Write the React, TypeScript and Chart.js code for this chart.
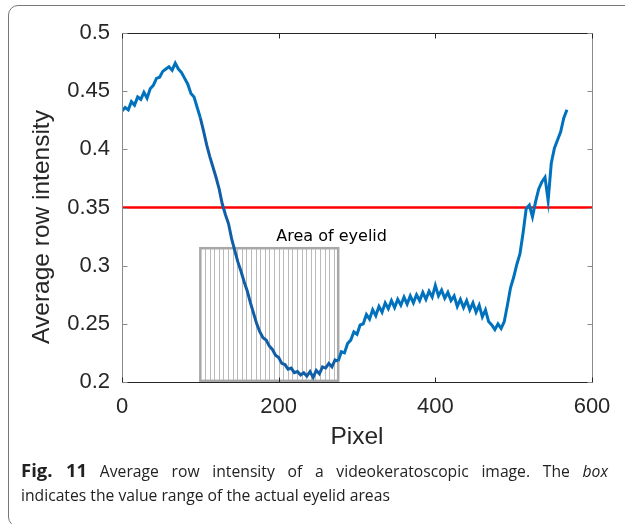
import React, { useEffect, useRef } from "react";
import { Chart, registerables } from "chart.js";

Chart.register(...registerables);

// ---- data ----
const pixelX = [
  0, 4, 8, 12, 16, 20, 24, 28, 32, 36, 40, 44, 48, 52, 56, 60, 64, 68, 72, 76,
  80, 84, 88, 92, 96, 100, 104, 108, 112, 116, 120, 124, 128, 132, 136, 140, 144, 148, 152, 156,
  160, 164, 168, 172, 176, 180, 184, 188, 192, 196, 200, 204, 208, 212, 216, 220, 224, 228, 232, 236,
  240, 244, 248, 252, 256, 260, 264, 268, 272, 276, 280, 284, 288, 292, 296, 300, 304, 308, 312, 316,
  320, 324, 328, 332, 336, 340, 344, 348, 352, 356, 360, 364, 368, 372, 376, 380, 384, 388, 392, 396,
  400, 404, 408, 412, 416, 420, 424, 428, 432, 436, 440, 444, 448, 452, 456, 460, 464, 468, 472, 476,
  480, 484, 488, 492, 496, 500, 504, 508, 512, 516, 520, 524, 528, 532, 536, 540, 544, 548, 552, 556,
  560, 564, 568,
];
const intensity = [
  0.433, 0.436, 0.434, 0.441, 0.438, 0.445, 0.443, 0.449, 0.444, 0.452, 0.455, 0.461, 0.462, 0.467, 0.469, 0.471, 0.468, 0.474, 0.469, 0.466,
  0.461, 0.456, 0.448, 0.445, 0.436, 0.427, 0.416, 0.404, 0.394, 0.385, 0.376, 0.366, 0.353, 0.344, 0.336, 0.323, 0.313, 0.303, 0.295, 0.286,
  0.278, 0.268, 0.259, 0.25, 0.243, 0.238, 0.236, 0.231, 0.228, 0.223, 0.221, 0.216, 0.215, 0.211, 0.212, 0.208, 0.209, 0.206, 0.208, 0.205,
  0.209, 0.204, 0.21, 0.207, 0.213, 0.212, 0.216, 0.213, 0.219, 0.218, 0.226, 0.225, 0.233, 0.236, 0.243, 0.241, 0.249, 0.25, 0.258, 0.254,
  0.262, 0.257, 0.265, 0.26, 0.268, 0.263, 0.27, 0.264, 0.271, 0.266, 0.273, 0.267, 0.274, 0.268, 0.275, 0.27, 0.277, 0.271, 0.278, 0.273,
  0.283, 0.274, 0.279, 0.272, 0.277, 0.27, 0.274, 0.265, 0.271, 0.264, 0.27, 0.262, 0.268, 0.26, 0.266, 0.256, 0.262, 0.252, 0.249, 0.245,
  0.25, 0.246, 0.252, 0.266, 0.281, 0.29, 0.301, 0.31, 0.328, 0.349, 0.352, 0.342, 0.355, 0.366, 0.372, 0.376, 0.356, 0.388, 0.401, 0.408,
  0.415, 0.427, 0.434,
];
const thresholdX = [0, 600];
const thresholdY = [0.35, 0.35];
const eyelidBoxX = [100, 276];
const eyelidBoxY = [0.201, 0.315];
const eyelidLabel = "Area of eyelid";
const eyelidLabelPos = [197, 0.3246];
const xTicks = [0, 200, 400, 600];
const yTicks = [0.2, 0.25, 0.3, 0.35, 0.4, 0.45, 0.5];
const xTitle = "Pixel";
const yTitle = "Average row intensity";

const FONT = '"Liberation Sans", Arial, sans-serif';

const overlay = {
  id: "overlay",
  beforeDatasetsDraw(chart: any) {
    const { ctx, scales } = chart;
    const x = scales.x, y = scales.y;
    const l = x.getPixelForValue(eyelidBoxX[0]);
    const r = x.getPixelForValue(eyelidBoxX[1]);
    const t = y.getPixelForValue(eyelidBoxY[1]);
    const b = y.getPixelForValue(eyelidBoxY[0]);
    ctx.save();
    ctx.strokeStyle = "#bababa";
    ctx.lineWidth = 1;
    for (let px = l + 4.6; px < r - 2; px += 4.6) {
      ctx.beginPath();
      ctx.moveTo(Math.round(px) + 0.5, t);
      ctx.lineTo(Math.round(px) + 0.5, b);
      ctx.stroke();
    }
    ctx.strokeStyle = "#a8a8a8";
    ctx.lineWidth = 2.5;
    ctx.strokeRect(l, t, r - l, b - t);
    ctx.fillStyle = "#000";
    ctx.font = '16px "DejaVu Sans"';
    ctx.textAlign = "left";
    ctx.textBaseline = "middle";
    ctx.fillText(eyelidLabel, x.getPixelForValue(eyelidLabelPos[0]), y.getPixelForValue(eyelidLabelPos[1]));
    ctx.restore();
  },
  afterDraw(chart: any) {
    const { ctx, chartArea: a, scales } = chart;
    const x = scales.x, y = scales.y;
    ctx.save();
    ctx.lineWidth = 1;
    const dark = "#262626", grey = "#8a8a8a";
    const line = (x1: number, y1: number, x2: number, y2: number, c: string) => {
      ctx.strokeStyle = c;
      ctx.beginPath();
      ctx.moveTo(x1, y1);
      ctx.lineTo(x2, y2);
      ctx.stroke();
    };
    const L = Math.round(a.left) + 0.5, R = Math.round(a.right) + 0.5;
    const T = Math.round(a.top) + 0.5, B = Math.round(a.bottom) + 0.5;
    line(L, T, R, T, dark);
    line(L, B, R, B, dark);
    line(L, T, L, B, grey);
    line(R, T, R, B, grey);
    for (const v of xTicks) {
      const px = Math.round(x.getPixelForValue(v)) + 0.5;
      line(px, B, px, B - 5, dark);
      line(px, T, px, T + 5, dark);
    }
    for (const v of yTicks) {
      const py = Math.round(y.getPixelForValue(v)) + 0.5;
      line(L, py, L + 5, py, grey);
      line(R, py, R - 5, py, grey);
    }
    // y-axis title
    ctx.translate(42, 227);
    ctx.rotate(-Math.PI / 2);
    ctx.fillStyle = "#262626";
    ctx.font = "24.5px " + FONT;
    ctx.textAlign = "center";
    ctx.textBaseline = "middle";
    ctx.fillText(yTitle, 0, 0);
    ctx.restore();
  },
};

export default function App() {
  const ref = useRef<HTMLCanvasElement | null>(null);
  useEffect(() => {
    if (!ref.current) return;
    const blue = "#0072bd";
    const darkBlue = "#125ea6";
    const chart = new Chart(ref.current, {
      type: "line",
      data: {
        datasets: [
          {
            data: pixelX.map((v, i) => ({ x: v, y: intensity[i] })),
            borderColor: blue,
            borderWidth: 3,
            pointRadius: 0,
            tension: 0,
            segment: {
              borderColor: (c: any) =>
                c.p0.parsed.x >= eyelidBoxX[0] && c.p1.parsed.x <= eyelidBoxX[1] ? darkBlue : blue,
            },
          },
          {
            data: thresholdX.map((v, i) => ({ x: v, y: thresholdY[i] })),
            borderColor: "#ff0000",
            borderWidth: 2.5,
            pointRadius: 0,
          },
        ],
      },
      options: {
        responsive: false,
        animation: false,
        devicePixelRatio: 1,
        layout: { padding: { top: 33, right: 33, left: 0, bottom: 0 } },
        plugins: { legend: { display: false }, tooltip: { enabled: false } },
        scales: {
          x: {
            type: "linear",
            min: 0,
            max: 600,
            afterBuildTicks: (s: any) => {
              s.ticks = xTicks.map((v) => ({ value: v }));
            },
            afterFit: (s: any) => {
              s.height = 78;
            },
            grid: { display: false, drawTicks: false },
            border: { display: false },
            ticks: {
              padding: 12,
              color: "#262626",
              font: { family: FONT, size: 22 },
              maxRotation: 0,
            },
            title: {
              display: true,
              text: xTitle,
              color: "#262626",
              font: { family: FONT, size: 24.5 },
              padding: { top: 0, bottom: 8 },
            },
          },
          y: {
            type: "linear",
            min: 0.2,
            max: 0.5,
            afterBuildTicks: (s: any) => {
              s.ticks = yTicks.map((v) => ({ value: v }));
            },
            afterFit: (s: any) => {
              s.width = 122;
            },
            grid: { display: false, drawTicks: false },
            border: { display: false },
            ticks: {
              padding: 12,
              color: "#262626",
              font: { family: FONT, size: 22 },
              callback: (v: any) => String(Math.round(Number(v) * 100) / 100),
            },
            title: { display: false },
          },
        },
      },
      plugins: [overlay],
    } as any);
    return () => chart.destroy();
  }, []);

  return (
    <div
      style={{
        position: "fixed",
        left: 0,
        top: 0,
        width: 625,
        height: 524,
        overflow: "hidden",
        background: "#fff",
      }}
    >
      <div
        style={{
          position: "absolute",
          left: 8,
          top: 5,
          width: 700,
          height: 520,
          border: "1.5px solid #777",
          borderRadius: 10,
        }}
      />
      <canvas
        ref={ref}
        width={625}
        height={460}
        style={{ position: "absolute", left: 0, top: 0, width: 625, height: 460 }}
      />
      <div
        style={{
          position: "absolute",
          left: 21,
          top: 458,
          width: 587,
          fontFamily: '"Open Sans", sans-serif',
          fontSize: 15.7,
          lineHeight: "24px",
          color: "#222",
        }}
      >
        <div style={{ textAlign: "justify", textAlignLast: "justify", whiteSpace: "normal" } as any}>
          <b style={{ fontSize: 18.5 }}>Fig. 11</b> Average row intensity of a videokeratoscopic image. The{" "}
          <i>box</i>
        </div>
        <div style={{ whiteSpace: "nowrap" }}>indicates the value range of the actual eyelid areas</div>
      </div>
    </div>
  );
}
